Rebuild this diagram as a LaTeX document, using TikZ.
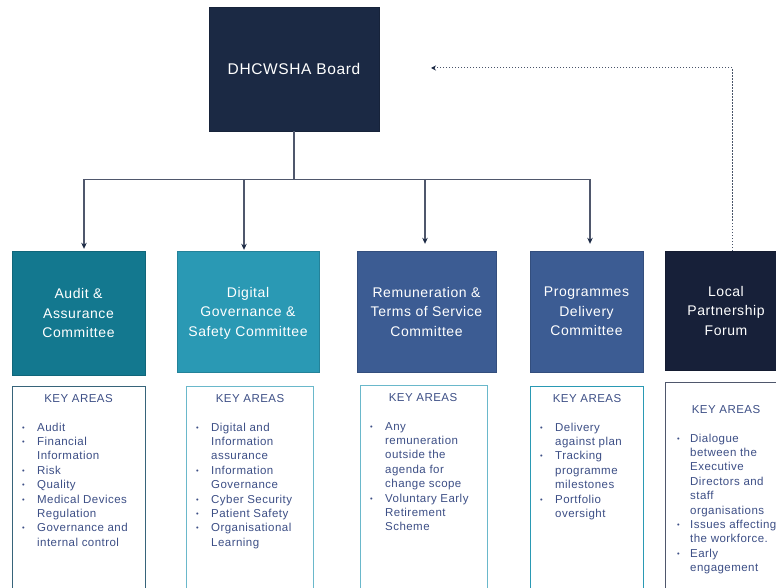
\documentclass[tikz,border=0pt]{standalone}
\usetikzlibrary{arrows.meta,calc}
\usepackage{fontspec}
\setmainfont{Liberation Sans}[LetterSpace=4]
\usepackage{xcolor}

\definecolor{boardnavy}{HTML}{1B2944}
\definecolor{auditteal}{HTML}{13788F}
\definecolor{digitalteal}{HTML}{2A99B4}
\definecolor{remunblue}{HTML}{3C5C93}
\definecolor{forumnavy}{HTML}{172039}
\definecolor{keyblue}{HTML}{3D4F86}
\definecolor{connline}{HTML}{4F576C}

\newcommand{\kbul}{\raisebox{1pt}{\fontsize{7.5}{7.5}\selectfont\textbullet}}

\begin{document}
\begin{tikzpicture}[x=1pt,y=-1pt,
  cbox/.style={rectangle, draw=#1!85!black, fill=#1, text=white, align=center,
    inner sep=0pt, font=\fontsize{14}{19.5}\selectfont},
  keybox/.style={rectangle, draw=#1, line width=1.2pt, fill=white, anchor=north west, inner sep=0pt},
  keyhead/.style={anchor=base, inner sep=0pt, text=keyblue, font=\fontsize{11.5}{14}\selectfont},
  keylist/.style={anchor=base west, inner sep=0pt, text=keyblue, font=\fontsize{11.5}{14.4}\selectfont},
  conn/.style={connline, line width=1.1pt},
  arr/.style={connline, line width=1.1pt, -{Stealth[length=6pt,width=5.5pt,color=boardnavy]}}]

  \useasboundingbox (0,0) rectangle (776,588);
  \clip (0,0) rectangle (776,588);

  % \draw[step=50,thin,gray] (0,0) grid (776,588);
  \draw (294,69) node (board) [cbox=boardnavy, minimum width=170, minimum height=124,
    font=\fontsize{15.5}{19}\selectfont] {DHCWSHA Board};

  \draw (78.5,313) node (audit) [cbox=auditteal, minimum width=133, minimum height=124] {Audit \&\\Assurance\\Committee};
  \draw (248,311.5) node (digital) [cbox=digitalteal, minimum width=142, minimum height=121,
    text depth=0pt] {Digital\\Governance \&\\Safety Committee};
  \draw (426.5,311.5) node (remun) [cbox=remunblue, minimum width=139, minimum height=121] {Remuneration \&\\Terms of Service\\Committee};
  \draw (586.5,311.5) node (prog) [cbox=remunblue, minimum width=113, minimum height=121] {Programmes\\Delivery\\Committee};
  \draw (726,310.5) node (forum) [cbox=forumnavy, minimum width=122, minimum height=119] {Local\\Partnership\\Forum};

  % board to committees
  \coordinate (bus) at (294,179.5);
  \coordinate (tap1) at (84,179.5);
  \coordinate (tap2) at (244,179.5);
  \coordinate (tap3) at (425,179.5);
  \coordinate (tap4) at (590,179.5);
  \draw[conn] (board.south) -- (bus);
  \draw[conn] (tap1) -- (tap4);
  \draw[arr, shorten >=2pt] (tap1) -- (tap1 |- audit.north);
  \draw[arr, shorten >=1pt] (tap2) -- (tap2 |- digital.north);
  \draw[arr, shorten >=7pt] (tap3) -- (tap3 |- remun.north);
  \draw[arr, shorten >=7pt] (tap4) -- (tap4 |- prog.north);

  % forum back to board
  \coordinate (forumtop) at (732,251);
  \coordinate (boardback) at (431,68);
  \draw[boardnavy!80, line width=1pt, dash pattern=on 1.5pt off 1.5pt,
    -{Stealth[length=5pt,width=5pt,color=boardnavy]}] (forumtop) |- (boardback);

  % key areas
  \draw (12,386) node (auditkey) [keybox=connline!60!auditteal, minimum width=133, minimum height=230] {};
  \draw (78.5,402) node (audithead) [keyhead] {KEY AREAS};
  \draw (22,431) node (auditlist) [keylist] {\begin{tabular}[t]{@{}p{15pt}@{}l@{}}
    \kbul & Audit\\
    \kbul & Financial\\
          & Information\\
    \kbul & Risk\\
    \kbul & Quality\\
    \kbul & Medical Devices\\
          & Regulation\\
    \kbul & Governance and\\
          & internal control
  \end{tabular}};

  \draw (186,386) node (digitalkey) [keybox=digitalteal!70, minimum width=127, minimum height=230] {};
  \draw (250,402) node (digitalhead) [keyhead] {KEY AREAS};
  \draw (196,431) node (digitallist) [keylist] {\begin{tabular}[t]{@{}p{15pt}@{}l@{}}
    \kbul & Digital and\\
          & Information\\
          & assurance\\
    \kbul & Information\\
          & Governance\\
    \kbul & Cyber Security\\
    \kbul & Patient Safety\\
    \kbul & Organisational\\
          & Learning
  \end{tabular}};

  \draw (360,385) node (remunkey) [keybox=digitalteal!70, minimum width=127, minimum height=230] {};
  \draw (423,401) node (remunhead) [keyhead] {KEY AREAS};
  \draw (370,430) node (remunlist) [keylist] {\begin{tabular}[t]{@{}p{15pt}@{}l@{}}
    \kbul & Any\\
          & remuneration\\
          & outside the\\
          & agenda for\\
          & change scope\\
    \kbul & Voluntary Early\\
          & Retirement\\
          & Scheme
  \end{tabular}};

  \draw (530,386) node (progkey) [keybox=digitalteal, minimum width=113, minimum height=230] {};
  \draw (587,402) node (proghead) [keyhead] {KEY AREAS};
  \draw (540,431) node (proglist) [keylist] {\begin{tabular}[t]{@{}p{15pt}@{}l@{}}
    \kbul & Delivery\\
          & against plan\\
    \kbul & Tracking\\
          & programme\\
          & milestones\\
    \kbul & Portfolio\\
          & oversight
  \end{tabular}};

  \draw (665,382) node (forumkey) [keybox=connline, minimum width=130, minimum height=230] {};
  \draw (726,413) node (forumhead) [keyhead] {KEY AREAS};
  \draw (677,442) node (forumlist) [keylist] {\begin{tabular}[t]{@{}p{13pt}@{}l@{}}
    \kbul & Dialogue\\
          & between the\\
          & Executive\\
          & Directors and\\
          & staff\\
          & organisations\\
    \kbul & Issues affecting\\
          & the workforce.\\
    \kbul & Early\\
          & engagement
  \end{tabular}};

\end{tikzpicture}
\end{document}
